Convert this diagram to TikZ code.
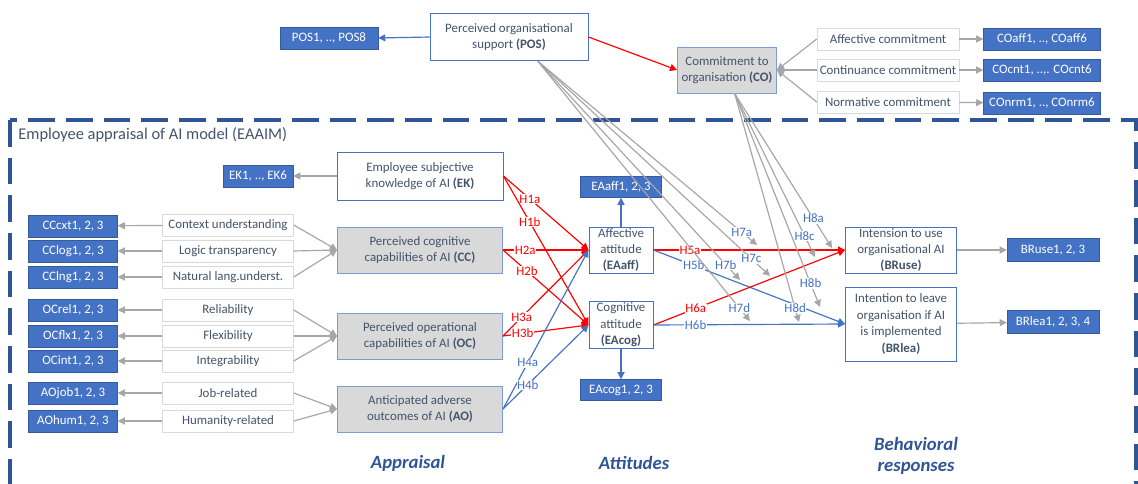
\documentclass[tikz,border=0pt]{standalone}
\usepackage{fontspec}
\setmainfont{Carlito}
\usetikzlibrary{arrows.meta}

\definecolor{txtblue}{HTML}{44546A}
\definecolor{boxblue}{HTML}{4472C4}
\definecolor{darkblue}{HTML}{2F5597}
\definecolor{lgrey}{HTML}{D9D9D9}
\definecolor{agrey}{HTML}{A6A6A6}
\definecolor{hred}{HTML}{FF0000}

\begin{document}
\begin{tikzpicture}[x=0.03cm, y=-0.03cm,
  every node/.style={font=\fontsize{11}{14}\selectfont, text=txtblue, align=center, inner sep=1pt},
  box/.style={draw=boxblue, fill=white, line width=0.8pt},
  greybox/.style={draw=boxblue!70, fill=lgrey, line width=0.8pt, minimum width=4.95cm, minimum height=1.38cm},
  blk/.style={fill=boxblue, draw=boxblue!80!black, text=white, minimum height=0.66cm},
  item/.style={draw=lgrey, fill=white, minimum width=3.93cm, minimum height=0.66cm},
  garr/.style={draw=agrey, line width=1pt, -{Triangle[length=6pt,width=6pt]}},
  rarr/.style={draw=hred, line width=1pt, -{Triangle[length=6pt,width=6pt]}},
  barr/.style={draw=boxblue, line width=1pt, -{Triangle[length=6pt,width=6pt]}},
  hlbl/.style={fill=white, inner sep=0.5pt},
  phase/.style={font=\fontsize{16}{18}\selectfont\bfseries\itshape, text=darkblue}
]
  \useasboundingbox (0,0) rectangle (1138,484);

  % frame of the model
  \draw[darkblue, line width=2.6pt, dash pattern=on 0.8cm off 0.33cm] (10,120) rectangle (1136,485.5);
  \node[anchor=west, font=\fontsize{14}{16}\selectfont] (title) at (17,135) {Employee appraisal of AI model (EAAIM)};

  % organisation level
  \node[box, minimum width=4.74cm, minimum height=1.41cm] (POS) at (509,37) {Perceived organisational\\support \textbf{(POS)}};
  \node[blk, minimum width=2.94cm] (POSi) at (329,38) {POS1, .., POS8};
  \node[greybox, minimum width=2.97cm] (CO) at (727,70) {Commitment to\\organisation \textbf{(CO)}};
  \node[item, minimum width=4.26cm] (COaffc) at (888,39) {Affective commitment};
  \node[item, minimum width=4.26cm] (COcntc) at (888,70) {Continuance commitment};
  \node[item, minimum width=4.26cm] (COnrmc) at (888,102) {Normative commitment};
  \node[blk, minimum width=3.51cm] (COaff) at (1042,39) {COaff1, .., COaff6};
  \node[blk, minimum width=3.51cm] (COcnt) at (1042,70) {COcnt1, ..,. COcnt6};
  \node[blk, minimum width=3.51cm] (COnrm) at (1042,103) {COnrm1, .., COnrm6};

  % appraisal
  \node[box, minimum width=4.98cm, minimum height=1.44cm] (EK) at (420,176) {Employee subjective\\knowledge of AI \textbf{(EK)}};
  \node[blk, minimum width=2.1cm] (EKi) at (258,176) {EK1, .., EK6};
  \node[greybox] (CC) at (420,250) {Perceived cognitive\\capabilities of AI \textbf{(CC)}};
  \node[greybox] (OC) at (420,336) {Perceived operational\\capabilities of AI \textbf{(OC)}};
  \node[greybox] (AO) at (420,409) {Anticipated adverse\\outcomes of AI \textbf{(AO)}};

  \node[item] (cxt) at (228,225) {Context understanding};
  \node[item] (log) at (228,251) {Logic transparency};
  \node[item] (lng) at (228,277) {Natural lang.underst.};
  \node[item] (rel) at (228,310) {Reliability};
  \node[item] (flx) at (228,336) {Flexibility};
  \node[item] (int) at (228,361) {Integrability};
  \node[item] (job) at (228,393) {Job-related};
  \node[item] (hum) at (228,421) {Humanity-related};

  \node[blk, minimum width=2.67cm] (CCcxt) at (73,226) {CCcxt1, 2, 3};
  \node[blk, minimum width=2.67cm] (CClog) at (73,251) {CClog1, 2, 3};
  \node[blk, minimum width=2.67cm] (CClng) at (73,277) {CClng1, 2, 3};
  \node[blk, minimum width=2.67cm] (OCrel) at (73,310) {OCrel1, 2, 3};
  \node[blk, minimum width=2.67cm] (OCflx) at (73,336) {OCflx1, 2, 3};
  \node[blk, minimum width=2.67cm] (OCint) at (73,361) {OCint1, 2, 3};
  \node[blk, minimum width=2.67cm] (AOjob) at (73,393) {AOjob1, 2, 3};
  \node[blk, minimum width=2.67cm] (AOhum) at (73,421) {AOhum1, 2, 3};

  % attitudes
  \node[box, minimum width=1.92cm, minimum height=1.35cm] (EAaff) at (621,250) {Affective\\attitude\\\textbf{(EAaff)}};
  \node[blk, minimum width=2.43cm, minimum height=0.63cm] (EAaffi) at (621,187) {EAaff1, 2, 3};
  \node[box, minimum width=1.92cm, minimum height=1.38cm] (EAcog) at (621,325) {Cognitive\\attitude\\\textbf{(EAcog)}};
  \node[blk, minimum width=2.43cm, minimum height=0.63cm] (EAcogi) at (621,390) {EAcog1, 2, 3};

  % behavioral responses
  \node[box, minimum width=3.33cm, minimum height=1.38cm] (BRuse) at (901,250) {Intension to use\\organisational AI\\\textbf{(BRuse)}};
  \node[box, minimum width=3.33cm, minimum height=2.22cm] (BRlea) at (901,324) {Intention to leave\\organisation if AI\\is implemented\\\textbf{(BRlea)}};
  \node[blk, minimum width=2.76cm, minimum height=0.69cm] (BRusei) at (1053,250) {BRuse1, 2, 3};
  \node[blk, minimum width=2.76cm, minimum height=0.69cm] (BRleai) at (1053,322) {BRlea1, 2, 3, 4};

  \node[phase] (ph1) at (408,463) {Appraisal};
  \node[phase] (ph2) at (634,463) {Attitudes};
  \node[phase] (ph3) at (916,456) {Behavioral\\responses};

  % measurement arrows
  \draw[barr] (POS.west) -- (POSi.east);
  \draw[garr] (COaffc.west) -- (CO.east);
  \draw[garr] (COcntc.west) -- (CO.east);
  \draw[garr] (COnrmc.west) -- (CO.east);
  \draw[garr] (COaffc) -- (COaff);
  \draw[garr] (COcntc) -- (COcnt);
  \draw[garr] (COnrmc) -- (COnrm);
  \draw[garr] (EK) -- (EKi);
  \draw[garr] (cxt) -- (CCcxt);
  \draw[garr] (log) -- (CClog);
  \draw[garr] (lng) -- (CClng);
  \draw[garr] (rel) -- (OCrel);
  \draw[garr] (flx) -- (OCflx);
  \draw[garr] (int) -- (OCint);
  \draw[garr] (job) -- (AOjob);
  \draw[garr] (hum) -- (AOhum);
  \draw[garr] (cxt.east) -- (CC.west);
  \draw[garr] (log.east) -- (CC.west);
  \draw[garr] (lng.east) -- (CC.west);
  \draw[garr] (rel.east) -- (OC.west);
  \draw[garr] (flx.east) -- (OC.west);
  \draw[garr] (int.east) -- (OC.west);
  \draw[garr] (job.east) -- (AO.west);
  \draw[garr] (hum.east) -- (AO.west);
  \draw[barr] (EAaff) -- (EAaffi);
  \draw[barr] (EAcog) -- (EAcogi);
  \draw[garr] (BRuse) -- (BRusei);
  \draw[garr] (BRlea) -- (BRleai);

  % hypotheses
  \draw[rarr] (POS.east) -- (CO.west);
  \draw[rarr] (EK.east) -- node[hlbl, text=hred, pos=0.31] {H1a} (EAaff.west);
  \draw[rarr] (EK.east) -- node[hlbl, text=hred, pos=0.31] {H1b} (EAcog.west);
  \draw[rarr] (CC.east) -- node[hlbl, text=hred, pos=0.26] {H2a} (EAaff.west);
  \draw[rarr] (CC.east) -- node[hlbl, text=hred, pos=0.28] {H2b} (EAcog.west);
  \draw[rarr] (OC.east) -- node[hlbl, text=hred, pos=0.22] {H3a} (EAaff.west);
  \draw[rarr] (OC.east) -- node[hlbl, text=hred, pos=0.23] {H3b} (EAcog.west);
  \draw[barr] (AO.east) -- node[hlbl, text=boxblue, pos=0.29] {H4a} (EAaff.west);
  \draw[barr] (AO.east) -- node[hlbl, text=boxblue, pos=0.29] {H4b} (EAcog.west);
  \draw[rarr] (EAaff.east) -- node[hlbl, text=hred, pos=0.19] {H5a} (BRuse.west);
  \draw[barr] (EAaff.east) -- node[hlbl, text=boxblue, pos=0.21] {H5b} (BRlea.west);
  \draw[rarr] (EAcog.east) -- node[hlbl, text=hred, pos=0.22] {H6a} (BRuse.west);
  \draw[barr] (EAcog.east) -- node[hlbl, text=boxblue, pos=0.22] {H6b} (BRlea.west);

  % moderators
  \coordinate (t7a) at (757,245);
  \coordinate (t7b) at (740,280);
  \coordinate (t7c) at (770,276);
  \coordinate (t7d) at (750,321);
  \coordinate (t8a) at (832,248);
  \coordinate (t8c) at (815,257);
  \coordinate (t8b) at (820,307);
  \coordinate (t8d) at (799,322);
  \draw[garr] (POS.-40) -- node[hlbl, text=boxblue, pos=0.93] {H7a} (t7a);
  \draw[garr] (POS.-40) -- node[hlbl, text=boxblue, pos=0.93] {H7b} (t7b);
  \draw[garr] (POS.-40) -- node[hlbl, text=boxblue, pos=0.92] {H7c} (t7c);
  \draw[garr] (POS.-40) -- node[hlbl, text=boxblue, pos=0.95] {H7d} (t7d);
  \draw[garr] (CO.-72) -- node[hlbl, text=boxblue, pos=0.81] {H8a} (t8a);
  \draw[garr] (CO.-72) -- node[hlbl, text=boxblue, pos=0.87] {H8c} (t8c);
  \draw[garr] (CO.-72) -- node[hlbl, text=boxblue, pos=0.89] {H8b} (t8b);
  \draw[garr] (CO.-72) -- node[hlbl, text=boxblue, pos=0.94] {H8d} (t8d);
\end{tikzpicture}
\end{document}
